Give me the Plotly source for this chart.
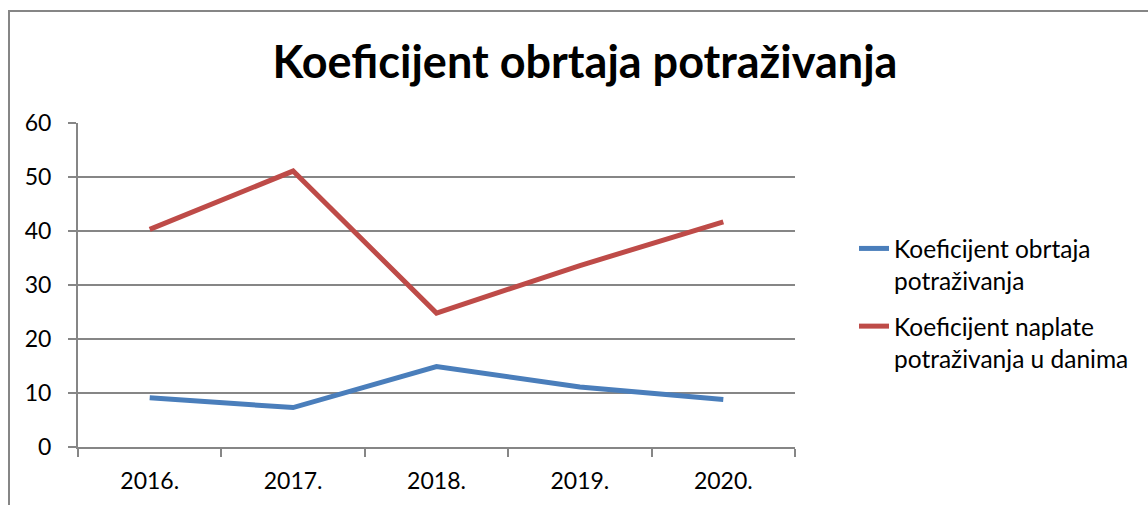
import plotly.graph_objects as go

years = ["2016.", "2017.", "2018.", "2019.", "2020."]
obrt = [9.1, 7.3, 14.9, 11.1, 8.8]
naplata = [40.3, 51.1, 24.8, 33.6, 41.7]
series_names = ["Koeficijent obrtaja<br>potraživanja", "Koeficijent naplate<br>potraživanja u danima"]
y_ticks = [0, 10, 20, 30, 40, 50, 60]

W, H = 1148, 505
L, R, T, B = 78, 1148 - 795, 123, 505 - 447
pw, ph = W - L - R, H - T - B

font = "Lato, Carlito, Calibri, sans-serif"

fig = go.Figure()
fig.add_trace(go.Scatter(x=years, y=obrt, mode="lines", name=series_names[0], legendgroup="g1",
                         line=dict(color="#4A7EBB", width=5)))
fig.add_trace(go.Scatter(x=years, y=naplata, mode="lines", name=series_names[1], legendgroup="g2",
                         line=dict(color="#BE4B48", width=5)))

fig.update_layout(
    width=W, height=H,
    margin=dict(l=L, r=R, t=T, b=B, autoexpand=False),
    paper_bgcolor="white", plot_bgcolor="white",
    font=dict(family=font, size=22, color="black"),
    title=dict(text="<b>Koeficijent obrtaja potraživanja</b>", x=585 / W, xanchor="center",
               y=1 - 62 / H, yanchor="middle", font=dict(size=45, family=font, color="black")),
    legend=dict(x=(854 - L) / pw, y=(447 - 226) / ph, xanchor="left", yanchor="top",
                valign="top", font=dict(size=24.5, family=font), tracegroupgap=11,
                bgcolor="rgba(0,0,0,0)"),
    showlegend=True,
)
fig.update_xaxes(type="category", range=[-0.5, 4.5], showgrid=False, showline=True,
                 linecolor="#868686", linewidth=2,
                 ticks="outside", tickson="boundaries", ticklen=8, tickcolor="#868686", tickwidth=2,
                 ticklabelstandoff=12, tickfont=dict(size=23, family=font))
fig.update_yaxes(range=[0, 60], tickvals=y_ticks, showgrid=True, gridcolor="#868686", gridwidth=2,
                 showline=True, linecolor="#868686", linewidth=2, zeroline=False,
                 ticks="outside", ticklen=8, tickcolor="#868686", tickwidth=2,
                 ticklabelstandoff=12, tickfont=dict(size=23, family=font))

# chart frame
fig.add_shape(type="rect", xref="paper", yref="paper",
              x0=(9 - L) / pw, x1=(W + 20 - L) / pw,
              y0=(H - B - (H + 20)) / ph, y1=(H - B - 11) / ph,
              line=dict(color="#868686", width=2), fillcolor="rgba(0,0,0,0)", layer="below")

fig.write_html("out.html", config={"displayModeBar": False},
               post_script="document.body.style.margin='0';document.body.style.padding='0';")
